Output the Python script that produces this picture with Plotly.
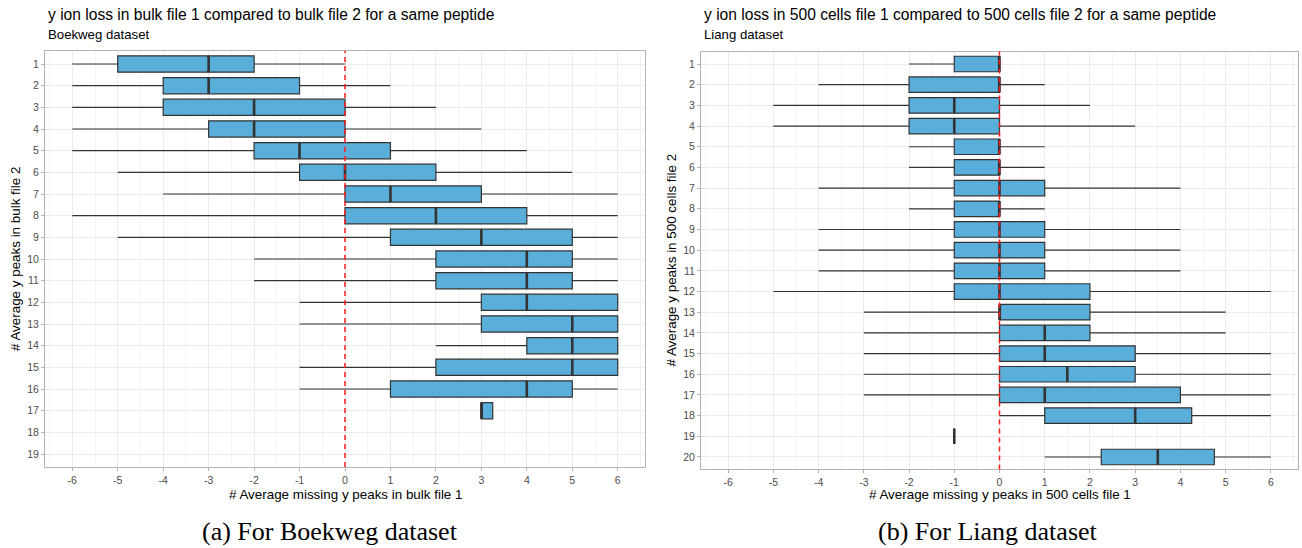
import plotly.graph_objects as go

# ---------------- data ----------------
left_rows = list(range(1, 20))
left_low = [-6, -6, -6, -6, -6, -5, -4, -6, -5, -2, -2, -1, -1, 2, -1, -1, 3, None, None]
left_q1 = [-5, -4, -4, -3, -2, -1, 0, 0, 1, 2, 2, 3, 3, 4, 2, 1, 3, None, None]
left_med = [-3, -3, -2, -2, -1, 0, 1, 2, 3, 4, 4, 4, 5, 5, 5, 4, 3, None, None]
left_q3 = [-2, -1, 0, 0, 1, 2, 3, 4, 5, 5, 5, 6, 6, 6, 6, 5, 3.25, None, None]
left_high = [0, 1, 2, 3, 4, 5, 6, 6, 6, 6, 6, 6, 6, 6, 6, 6, 3.25, None, None]

right_rows = list(range(1, 21))
right_low = [-2, -4, -5, -5, -2, -2, -4, -2, -4, -4, -4, -5, -3, -3, -3, -3, -3, 0, -1, 1]
right_q1 = [-1, -2, -2, -2, -1, -1, -1, -1, -1, -1, -1, -1, 0, 0, 0, 0, 0, 1, -1, 2.25]
right_med = [0, 0, -1, -1, 0, 0, 0, 0, 0, 0, 0, 0, 0, 1, 1, 1.5, 1, 3, -1, 3.5]
right_q3 = [0, 0, 0, 0, 0, 0, 1, 0, 1, 1, 1, 2, 2, 2, 3, 3, 4, 4.25, -1, 4.75]
right_high = [0, 1, 2, 3, 1, 1, 4, 1, 4, 4, 4, 6, 5, 5, 6, 6, 6, 6, -1, 6]

x_ticks = list(range(-6, 7))

titles = ["y ion loss in bulk file 1 compared to bulk file 2 for a same peptide",
          "y ion loss in 500 cells file 1 compared to 500 cells file 2 for a same peptide"]
subtitles = ["Boekweg dataset", "Liang dataset"]
xtitles = ["# Average missing y peaks in bulk file 1", "# Average missing y peaks in 500 cells file 1"]
ytitles = ["# Average y peaks in bulk file 2", "# Average y peaks in 500 cells file 2"]
captions = ["(a) For Boekweg dataset", "(b) For Liang dataset"]

# ---------------- style ----------------
W, H = 1302, 548
FILL = "#59AFDA"
EDGE = "#333333"
BOXW = 0.75
FONT = "Liberation Sans"

fig = go.Figure()

panels = [
    dict(rows=left_rows, low=left_low, q1=left_q1, med=left_med, q3=left_q3, high=left_high,
         xa="x", ya="y", px=(45, 645), py=(51, 467)),
    dict(rows=right_rows, low=right_low, q1=right_q1, med=right_med, q3=right_q3, high=right_high,
         xa="x2", ya="y2", px=(701, 1298), py=(51.6, 469.4)),
]

for p in panels:
    idx = [i for i, v in enumerate(p["med"]) if v is not None]
    ys = [p["rows"][i] for i in idx]
    fig.add_trace(go.Box(
        orientation="h",
        y=ys,
        q1=[p["q1"][i] for i in idx],
        median=[p["med"][i] for i in idx],
        q3=[p["q3"][i] for i in idx],
        lowerfence=[p["low"][i] for i in idx],
        upperfence=[p["high"][i] for i in idx],
        width=BOXW,
        whiskerwidth=0,
        fillcolor=FILL,
        line=dict(color=EDGE, width=1.2),
        boxpoints=False,
        showlegend=False,
        xaxis=p["xa"], yaxis=p["ya"],
    ))
    # thicker median lines (ggplot fatten)
    mx, my = [], []
    for i in idx:
        m = p["med"][i]
        r = p["rows"][i]
        mx += [m, m, None]
        my += [r - BOXW / 2, r + BOXW / 2, None]
    fig.add_trace(go.Scatter(x=mx, y=my, mode="lines", line=dict(color=EDGE, width=2.6),
                             showlegend=False, hoverinfo="skip",
                             xaxis=p["xa"], yaxis=p["ya"]))

def xdom(px):
    return [px[0] / W, px[1] / W]

def ydom(py):
    return [1 - py[1] / H, 1 - py[0] / H]

axis_common = dict(
    showline=True, mirror=True, linecolor="#b3b3b3", linewidth=1,
    gridcolor="#ebebeb", gridwidth=1, zeroline=False,
    ticks="outside", ticklen=3, tickcolor="#b3b3b3",
    tickfont=dict(family=FONT, size=10.5, color="#4d4d4d"),
)

fig.update_layout(
    width=W, height=H,
    margin=dict(l=0, r=0, t=0, b=0),
    paper_bgcolor="white", plot_bgcolor="white",
    font=dict(family=FONT),
    xaxis=dict(domain=xdom(panels[0]["px"]), anchor="y", range=[-6.6, 6.6],
               tickvals=x_ticks, ticktext=[str(v) for v in x_ticks],
               minor=dict(dtick=0.5, tick0=0, showgrid=True, gridcolor="#f4f4f4", ticks=""),
               **axis_common),
    yaxis=dict(domain=ydom(panels[0]["py"]), anchor="x", range=[19.6, 0.4],
               tickvals=left_rows, ticktext=[str(v) for v in left_rows], **axis_common),
    xaxis2=dict(domain=xdom(panels[1]["px"]), anchor="y2", range=[-6.6, 6.6],
                tickvals=x_ticks, ticktext=[str(v) for v in x_ticks],
                minor=dict(dtick=0.5, tick0=0, showgrid=True, gridcolor="#f4f4f4", ticks=""),
                **axis_common),
    yaxis2=dict(domain=ydom(panels[1]["py"]), anchor="x2", range=[20.6, 0.4],
                tickvals=right_rows, ticktext=[str(v) for v in right_rows], **axis_common),
)

# red dashed zero lines
for p in panels:
    fig.add_shape(type="line", xref=p["xa"], yref=p["ya"] + " domain",
                  x0=0, x1=0, y0=0, y1=1, layer="above",
                  line=dict(color="#ff1a1a", width=1.5, dash="5px,4px"))

ann = []
for k, p in enumerate(panels):
    x0, x1 = p["px"]
    y0, y1 = p["py"]
    ann.append(dict(text=titles[k], x=(x0 + 1) / W, y=1 - 14 / H, xref="paper", yref="paper",
                    xanchor="left", yanchor="middle", showarrow=False,
                    font=dict(family=FONT, size=15.6, color="black")))
    ann.append(dict(text=subtitles[k], x=(x0 + 1) / W, y=1 - 35 / H, xref="paper", yref="paper",
                    xanchor="left", yanchor="middle", showarrow=False,
                    font=dict(family=FONT, size=13.2, color="black")))
    ann.append(dict(text=xtitles[k], x=(x0 + x1) / 2 / W, y=1 - 494 / H, xref="paper", yref="paper",
                    xanchor="center", yanchor="middle", showarrow=False,
                    font=dict(family=FONT, size=13.4, color="black")))
    ann.append(dict(text=ytitles[k], x=(x0 - 30) / W, y=1 - (y0 + y1) / 2 / H, xref="paper", yref="paper",
                    xanchor="center", yanchor="middle", showarrow=False, textangle=-90,
                    font=dict(family=FONT, size=13.4, color="black")))

cap_x = [330, 988]
for k in range(2):
    ann.append(dict(text=captions[k], x=cap_x[k] / W, y=1 - 531 / H, xref="paper", yref="paper",
                    xanchor="center", yanchor="middle", showarrow=False,
                    font=dict(family="Liberation Serif", size=26, color="black")))

fig.update_layout(annotations=ann)
fig.write_html("out.html")
